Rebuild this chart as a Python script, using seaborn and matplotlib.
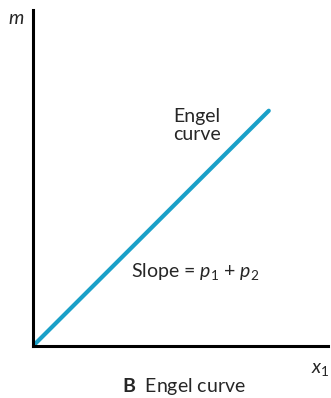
import matplotlib
matplotlib.use('Agg')
import matplotlib.pyplot as plt
import seaborn as sns
import pandas as pd

# Engel curve data (income m vs. good x1)
x1_values = [0, 8]
m_values = [0, 7]

sns.set_style('white')
plt.rcParams['font.family'] = ['Lato', 'DejaVu Sans']
plt.rcParams['mathtext.fontset'] = 'custom'
plt.rcParams['mathtext.rm'] = 'Lato'
plt.rcParams['mathtext.it'] = 'Lato:italic'
plt.rcParams['mathtext.bf'] = 'Lato:bold'

df = pd.DataFrame({'x1': x1_values, 'm': m_values})

fig = plt.figure(figsize=(3.31, 3.98), dpi=100)
ax = fig.add_axes([0.1, 0.131, 0.89, 0.844])

sns.lineplot(data=df, x='x1', y='m', color='#1aa0c8', linewidth=3, ax=ax)

ax.set_xlim(0, 10)
ax.set_ylim(0, 10)
ax.set_xticks([])
ax.set_yticks([])
ax.set_xlabel('')
ax.set_ylabel('')
sns.despine(ax=ax)
for side in ['left', 'bottom']:
    ax.spines[side].set_color('black')
    ax.spines[side].set_linewidth(2.2)

ax.text(-0.058, 0.975, '$m$', transform=ax.transAxes, fontsize=14,
        ha='center', va='center')
ax.text(0.975, -0.07, '$x_1$', transform=ax.transAxes, fontsize=14,
        ha='center', va='center')
ax.text(0.555, 0.655, 'Engel\ncurve', transform=ax.transAxes, fontsize=14,
        ha='center', va='center', linespacing=1.05)
ax.text(0.55, 0.22, 'Slope = $p_1$ + $p_2$', transform=ax.transAxes,
        fontsize=14, ha='center', va='center')

fig.text(0.557, 0.03, r'$\mathbf{B}$  Engel curve', fontsize=14,
         ha='center', va='center')

plt.savefig('out.png', dpi=100)
plt.close()
